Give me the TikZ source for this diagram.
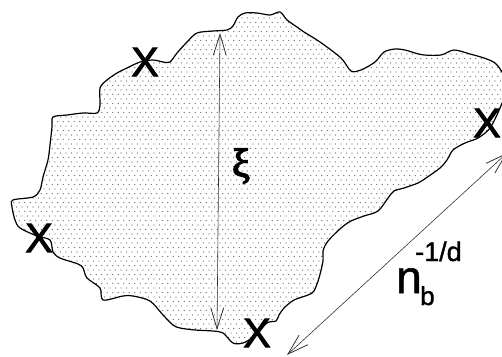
\documentclass[tikz,border=0pt]{standalone}
\usepackage{fontspec}
\setmainfont{Liberation Sans}
\newfontfamily\markfont[FakeBold=2.2]{Liberation Sans}
\newfontfamily\lblfont[FakeBold=1.2]{Liberation Sans}
\newfontfamily\xifont[FakeBold=3.5]{Liberation Serif}
\usetikzlibrary{arrows.meta}
\begin{document}
\begin{tikzpicture}[x=1pt,y=-1pt,
  xmark/.style={inner sep=0pt,font=\markfont\fontsize{41}{41}\selectfont},
  lbl/.style={inner sep=0pt,anchor=base west},
  dimarrow/.style={line width=0.6pt,black!80,
    {Straight Barb[length=21pt,width=13pt,line width=0.8pt]}-{Straight Barb[length=21pt,width=13pt,line width=0.8pt]}},
  outline/.style={line width=1.2pt,line join=round}]
\useasboundingbox (0,0) rectangle (502,356);
\path[save path=\blobpath] plot[smooth cycle,tension=0.5] coordinates {
 (53,117) (67,115) (83,113) (97,113) (100,105) (100,88) (107,80) (117,73)
 (127,68) (140,62) (153,60) (163,62) (170,62) (177,53) (187,42) (197,33)
 (213,31) (227,30) (233,26) (238,17) (245,13) (257,13) (270,15) (280,12)
 (287,20) (297,27) (304,32) (320,42) (341,58) (351,71) (361,70) (375,62)
 (384,52) (395,49) (405,50) (415,53) (424,55) (441,55) (454,50) (470,54)
 (484,58) (495,63) (502,72) (508,85) (500,108) (490,128) (478,138)
 (465,143) (453,150) (447,160) (440,168) (426,178) (418,183) (404,188)
 (394,191) (388,198) (378,211) (364,216) (351,221) (341,228) (328,241)
 (323,251) (323,261) (319,278) (314,291) (308,295) (294,300) (284,308)
 (279,315) (276,321) (267,323) (253,337) (243,343) (233,343) (223,333)
 (213,331) (195,330) (180,328) (173,325) (163,315) (150,301) (133,296)
 (123,296) (103,300) (100,288) (87,278) (83,268) (78,264) (60,258)
 (53,252) (50,240) (37,236) (20,228) (15,220) (12,207) (13,200) (33,197)
 (40,190) (43,177) (48,160) (50,145) (52,127)};
\begin{scope}
  \clip[use path=\blobpath];
  \foreach \j in {2,...,78} {
    \fill[black!60] \foreach \i in {0,...,92} {
      ({\i*5.5+mod(\j,2)*2.75},{\j*4.5}) circle[radius=0.6pt]
    };
  }
\end{scope}
\draw[outline,use path=\blobpath];

\node[xmark] (xtop) at (145,62) {X};
\node[xmark] (xleft) at (39,238) {X};
\node[xmark] (xbot) at (257,333) {X};
\node[xmark] (xright) at (487,123) {X};

\coordinate (xitop) at (220,33);
\coordinate (xibot) at (217,330);
\draw[dimarrow] (xitop) -- (xibot);
\node[inner sep=0pt,font=\xifont\fontsize{40}{40}\selectfont] (xi) at (241,166) {ξ};

\coordinate (nbot) at (287,355);
\coordinate (ntop) at (507,153);
\draw[dimarrow] (nbot) -- (ntop);
\node[lbl,font=\lblfont\fontsize{46}{46}\selectfont] (n) at (396,293) {n};
\node[lbl,font=\lblfont\fontsize{26}{26}\selectfont] (b) at (420,305) {b};
\node[lbl,font=\lblfont\fontsize{27}{27}\selectfont] (exp) at (415,261) {-1/d};
\end{tikzpicture}
\end{document}
